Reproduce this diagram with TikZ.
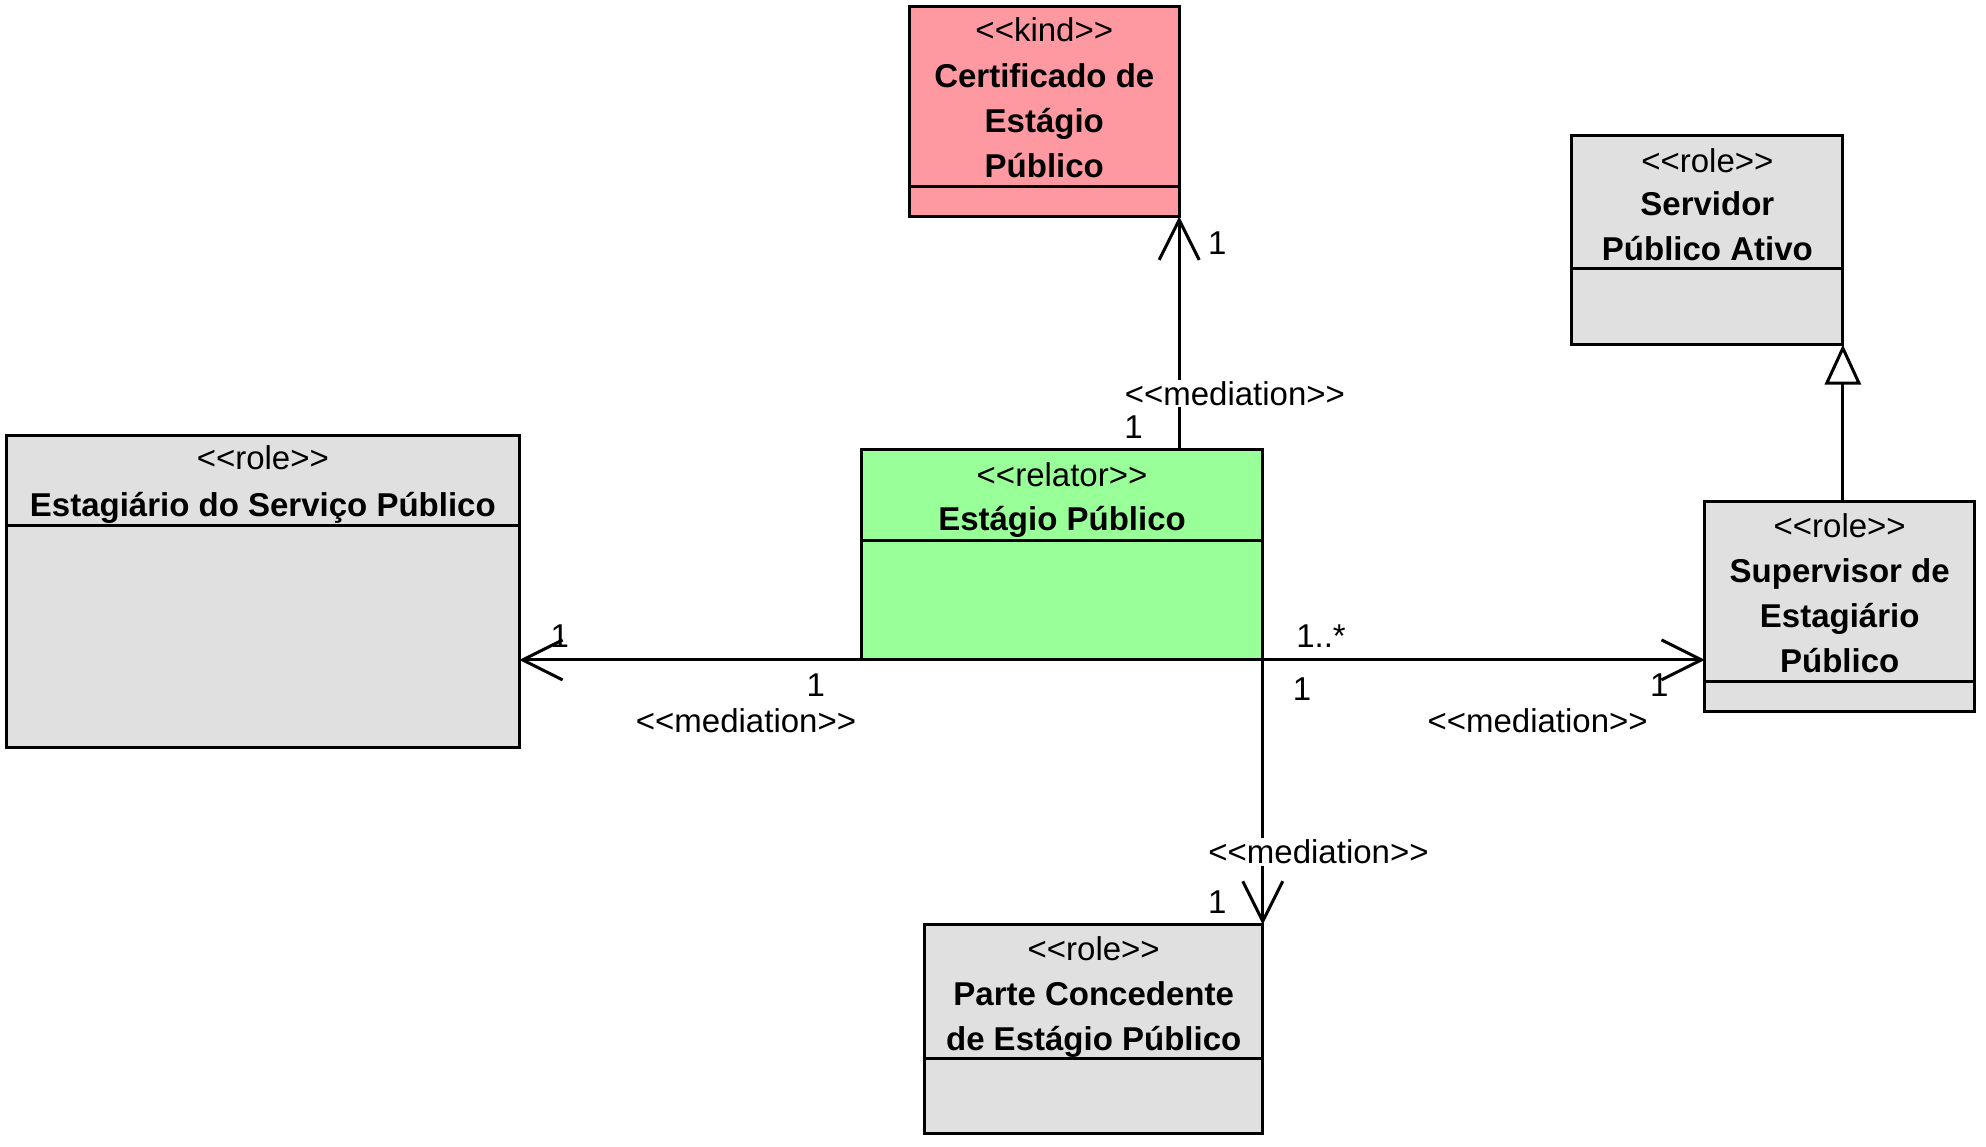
\documentclass[tikz,border=0pt]{standalone}
\usepackage{fontspec}
\setmainfont{Liberation Sans}
\usetikzlibrary{arrows.meta}

\newcommand{\px}{0.6333pt}
\newcommand{\stereo}[1]{<\kern0pt<#1>\kern0pt>}
\definecolor{kindpink}{RGB}{255,153,161}
\definecolor{relatorgreen}{RGB}{153,255,153}
\definecolor{rolegrey}{RGB}{224,224,224}

\tikzset{every picture/.style={line width=1.5pt}}
\tikzset{
  classbox/.style={draw, anchor=north west, inner sep=0pt, outer sep=0pt},
  umltext/.style={anchor=base, inner sep=0.75pt, font=\fontsize{16.5}{22.5}\selectfont},
  nametext/.style={umltext, align=center, font=\fontsize{16.5}{22.5}\selectfont\bfseries},
  medlabel/.style={umltext, fill=white},
  mediation/.style={-{Straight Barb[length=20pt,width=20pt]}},
  generalization/.style={-{Triangle[open,length=20pt,width=18pt]}},
}

\begin{document}
\begin{tikzpicture}[x=\px,y=\px,yscale=-1,xscale=1]
\useasboundingbox (0,0) rectangle (1568,905);

%Shape: Rectangle [kind]
\node[classbox, fill=kindpink, minimum width=213*\px, minimum height=166*\px] (cert) at (718,5) {};
\draw (cert.west |- 0,147) -- (cert.east |- 0,147);
%Shape: Rectangle [role]
\node[classbox, fill=rolegrey, minimum width=214*\px, minimum height=165*\px] (servidor) at (1241,107) {};
\draw (servidor.west |- 0,212) -- (servidor.east |- 0,212);
%Shape: Rectangle [role]
\node[classbox, fill=rolegrey, minimum width=405*\px, minimum height=246*\px] (estagiario) at (5,344) {};
\draw (estagiario.west |- 0,415) -- (estagiario.east |- 0,415);
%Shape: Rectangle [relator]
\node[classbox, fill=relatorgreen, minimum width=317*\px, minimum height=166*\px] (relator) at (680,355) {};
\draw (relator.west |- 0,427) -- (relator.east |- 0,427);
%Shape: Rectangle [role]
\node[classbox, fill=rolegrey, minimum width=213*\px, minimum height=166*\px] (supervisor) at (1346,396) {};
\draw (supervisor.west |- 0,538) -- (supervisor.east |- 0,538);
%Shape: Rectangle [role]
\node[classbox, fill=rolegrey, minimum width=267*\px, minimum height=165*\px] (parte) at (730,730) {};
\draw (parte.west |- 0,836) -- (parte.east |- 0,836);

% Text Node (multi-line names sit on the baseline of their last line)
\node[umltext] (cert-st) at (824.5,33) {\stereo{kind}};
\node[nametext] (cert-nm) at (824.5,140) {Certificado de\\Estágio\\Público};
% Text Node
\node[umltext] (servidor-st) at (1348,136) {\stereo{role}};
\node[nametext] (servidor-nm) at (1348,206) {Servidor\\Público Ativo};
% Text Node
\node[umltext] (estagiario-st) at (207.5,371) {\stereo{role}};
\node[nametext] (estagiario-nm) at (207.5,408) {Estagiário do Serviço Público};
% Text Node
\node[umltext] (relator-st) at (838.5,384) {\stereo{relator}};
\node[nametext] (relator-nm) at (838.5,419) {Estágio Público};
% Text Node
\node[umltext] (supervisor-st) at (1452.5,424) {\stereo{role}};
\node[nametext] (supervisor-nm) at (1452.5,531) {Supervisor de\\Estagiário\\Público};
% Text Node
\node[umltext] (parte-st) at (863.5,758) {\stereo{role}};
\node[nametext] (parte-nm) at (863.5,829) {Parte Concedente\\de Estágio Público};

%Straight Lines [mediation]
\draw[mediation] (relator.north -| cert.south east) -- (cert.south east);
\draw[mediation] (relator.south west) -- (estagiario.east |- relator.south west);
\draw[mediation] (relator.south east) -- (supervisor.west |- relator.south east);
\draw[mediation] (relator.south east) -- (parte.north east);
%Straight Lines [generalization]
\draw[generalization] (supervisor.north -| servidor.south east) -- (servidor.south east);

% Text Node
\node[medlabel] (med-cert) at (975,320) {\stereo{mediation}};
\node[umltext] (m-cert-a) at (961,201) {1};
\node[umltext] (m-cert-b) at (895,346) {1};
% Text Node
\node[umltext] (med-estag) at (589,578) {\stereo{mediation}};
\node[umltext] (m-estag-a) at (442,511) {1};
\node[umltext] (m-estag-b) at (644,550) {1};
% Text Node
\node[umltext] (med-super) at (1214,578) {\stereo{mediation}};
\node[umltext] (m-super-a) at (1043,511) {1..*};
\node[umltext] (m-super-b) at (1028,553) {1};
\node[umltext] (m-super-c) at (1310,550) {1};
% Text Node
\node[medlabel] (med-parte) at (1041,682) {\stereo{mediation}};
\node[umltext] (m-parte-a) at (961,721) {1};

\end{tikzpicture}
\end{document}
